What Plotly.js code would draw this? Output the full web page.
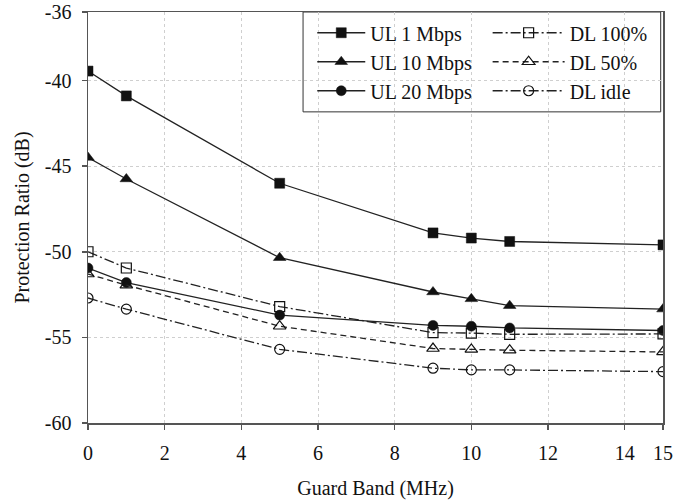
<!DOCTYPE html>
<html>
<head>
<meta charset="utf-8">
<script src="https://cdn.plot.ly/plotly-3.0.1.min.js"></script>
<style>html,body{margin:0;padding:0;background:#fff;}#chart{width:696px;height:500px;}</style>
</head>
<body>
<div id="chart"></div>
<script>
const guardBand = [0, 1, 5, 9, 10, 11, 15];
const ul1 = [-39.45, -40.9, -46.0, -48.9, -49.2, -49.4, -49.6];
const ul10 = [-44.5, -45.75, -50.35, -52.35, -52.75, -53.15, -53.35];
const ul20 = [-50.95, -51.8, -53.7, -54.3, -54.35, -54.45, -54.6];
const dl100 = [-50.0, -50.95, -53.2, -54.72, -54.75, -54.82, -54.8];
const dl50 = [-51.3, -51.95, -54.35, -55.65, -55.7, -55.75, -55.85];
const dlIdle = [-52.7, -53.35, -55.7, -56.8, -56.9, -56.9, -57.0];
const names = ['UL 1 Mbps', 'UL 10 Mbps', 'UL 20 Mbps', 'DL 100%', 'DL 50%', 'DL idle'];
const xTicks = [0, 2, 4, 6, 8, 10, 12, 14, 15];
const yTicks = [-60, -55, -50, -45, -40, -36];

function tr(name, y, symbol, dash, legend) {
  const open = symbol.indexOf('open') > 0;
  return {
    x: guardBand, y: y, name: name, type: 'scatter', mode: 'lines+markers', legend: legend,
    line: {color: '#222', width: 1.3, dash: dash},
    marker: {symbol: symbol, size: symbol.indexOf('triangle') === 0 ? 11 : 10, color: '#111', line: {color: '#111', width: open ? 1.2 : 0.5}}
  };
}
const data = [
  tr(names[0], ul1, 'square', 'solid', 'legend'),
  tr(names[1], ul10, 'triangle-up', 'solid', 'legend'),
  tr(names[2], ul20, 'circle', 'solid', 'legend'),
  tr(names[3], dl100, 'square-open', '10px,3px,2px,3px', 'legend2'),
  tr(names[4], dl50, 'triangle-up-open', '6px,4px', 'legend2'),
  tr(names[5], dlIdle, 'circle-open', '10px,3px,2px,3px', 'legend2')
];

const fam = '"Liberation Serif", "Times New Roman", serif';
const font = {family: fam, size: 20, color: '#111'};
const legendBase = {
  orientation: 'v', y: 0.997, xanchor: 'left', yanchor: 'top',
  bgcolor: 'rgba(0,0,0,0)', borderwidth: 0,
  font: {family: fam, size: 20, color: '#111'},
  traceorder: 'normal'
};
const layout = {
  width: 696, height: 500,
  margin: {l: 88, r: 33, t: 12, b: 77},
  paper_bgcolor: '#fff', plot_bgcolor: '#fff',
  font: font,
  showlegend: true,
  legend: Object.assign({}, legendBase, {x: 0.39, itemwidth: 48}),
  legend2: Object.assign({}, legendBase, {x: 0.695, itemwidth: 72}),
  shapes: [{
    type: 'rect', xref: 'paper', yref: 'paper', layer: 'between',
    x0: 0.374, x1: 0.996, y0: 0.757, y1: 1,
    fillcolor: '#fff', line: {color: '#333', width: 1}
  }],
  xaxis: {
    range: [0, 15], tickvals: xTicks, ticktext: xTicks.map(String),
    showline: true, linecolor: '#555', linewidth: 1.5, mirror: true,
    ticks: 'outside', ticklen: 5, tickcolor: '#555', tickwidth: 1.5,
    ticklabelstandoff: 6,
    showgrid: true, gridcolor: '#cfcfcf', griddash: 'dot', gridwidth: 1,
    zeroline: false, tickfont: {family: fam, size: 20},
    title: {text: 'Guard Band (MHz)', font: {family: fam, size: 20}, standoff: 18}
  },
  yaxis: {
    range: [-60, -36], tickvals: yTicks, ticktext: yTicks.map(String),
    showline: true, linecolor: '#555', linewidth: 1.5, mirror: true,
    ticks: 'outside', ticklen: 5, tickcolor: '#555', tickwidth: 1.5,
    ticklabelstandoff: 6,
    showgrid: true, gridcolor: '#cfcfcf', griddash: 'dot', gridwidth: 1,
    zeroline: false, tickfont: {family: fam, size: 20},
    title: {text: 'Protection Ratio (dB)', font: {family: fam, size: 20}, standoff: 10}
  }
};
Plotly.newPlot('chart', data, layout, {displayModeBar: false, staticPlot: true});
</script>
</body>
</html>
